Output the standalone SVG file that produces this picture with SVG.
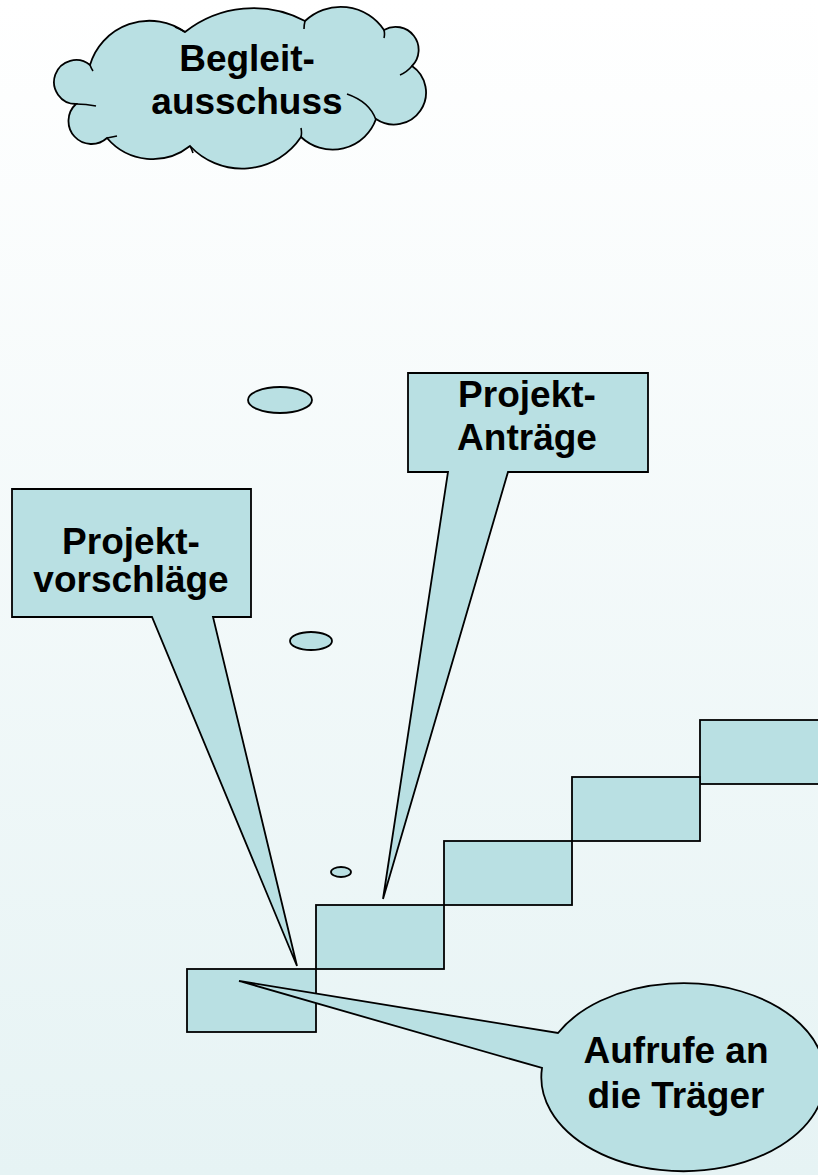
<svg xmlns="http://www.w3.org/2000/svg" width="818" height="1175" viewBox="0 0 818 1175">
<defs>
<linearGradient id="bg" x1="0" y1="0" x2="0" y2="1">
<stop offset="0" stop-color="#ffffff"/>
<stop offset="1" stop-color="#e6f3f4"/>
</linearGradient>
</defs>
<style>
.shape{fill:#b9e0e3;stroke:#000;stroke-width:1.8;stroke-linejoin:miter}
.inner{fill:none;stroke:#000;stroke-width:1.6}
.lbl{font-family:"Liberation Sans",Arial,sans-serif;font-weight:bold;font-size:37px;fill:#000;text-anchor:middle}
</style>
<rect x="0" y="0" width="818" height="1175" fill="url(#bg)"/>

<g id="begleitausschuss">
<path class="shape" d="M 90,65 A 62,62 0 0 1 185,32 A 110,110 0 0 1 305,21 A 52,52 0 0 1 384,30 A 23,23 0 0 1 412,66 A 31.6,31.6 0 0 1 376,119 A 46,46 0 0 1 301,137 A 71,71 0 0 1 190,146 A 60,60 0 0 1 107,138 A 23,23 0 0 1 76,104 A 22,22 0 1 1 90,65 Z"/>
<path class="inner" d="M 90,65 q 1,3 3,6 M 76,104 q 10,0 20,2 M 107,138 q 5,-1 10,-2 M 190,146 q 2,4 3,7 M 301,137 q 1,-4 0,-9 M 347,94 Q 370,102 376,120 M 412,66 q -5,6 -12,9 M 384,30 q 1,4 0,8 M 305,21 q -1,4 -1,8 M 185,32 q -5,-3 -10,-5"/>
<text class="lbl" x="247" y="71">Begleit-</text>
<text class="lbl" x="247" y="114">ausschuss</text>
</g>

<g id="ellipse-1"><ellipse class="shape" cx="280" cy="400" rx="32" ry="13"/></g>
<g id="ellipse-2"><ellipse class="shape" cx="311" cy="641" rx="21" ry="9"/></g>
<g id="ellipse-3"><ellipse class="shape" cx="341" cy="872" rx="10" ry="5"/></g>

<g id="stairs">
<rect class="shape" x="700" y="720" width="130" height="64"/>
<rect class="shape" x="572" y="777" width="128" height="64"/>
<rect class="shape" x="444" y="841" width="128" height="64"/>
<rect class="shape" x="316" y="905" width="128" height="64"/>
<rect class="shape" x="187" y="969" width="129" height="63"/>
</g>

<g id="projekt-antraege">
<path class="shape" d="M 408,373 H 648 V 472 H 508 L 383,899 L 448,472 H 408 Z"/>
<text class="lbl" x="527" y="407">Projekt-</text>
<text class="lbl" x="527" y="450">Anträge</text>
</g>

<g id="projektvorschlaege">
<path class="shape" d="M 12,489 H 251 V 617 H 213 L 297,966 L 152,617 H 12 Z"/>
<text class="lbl" x="131" y="554">Projekt-</text>
<text class="lbl" x="131" y="592">vorschläge</text>
</g>

<g id="aufrufe">
<path class="shape" d="M 239,981 L 558,1033 A 142,94 0 1 1 542,1068 Z"/>
<text class="lbl" x="676" y="1063">Aufrufe an</text>
<text class="lbl" x="676" y="1108">die Träger</text>
</g>
</svg>
